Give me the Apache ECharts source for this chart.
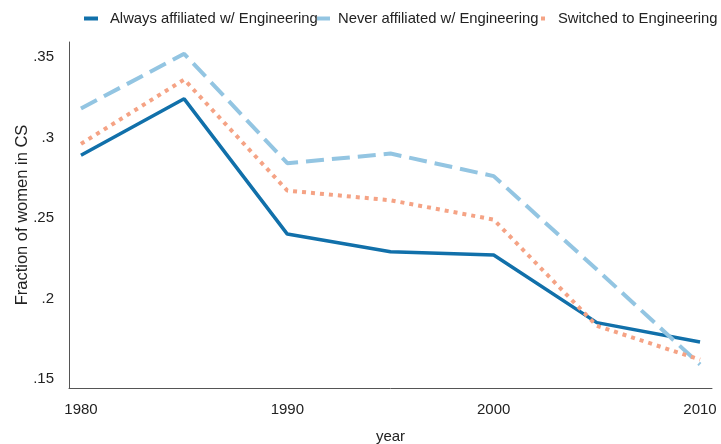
<!DOCTYPE html>
<html>
<head>
<meta charset="utf-8">
<script src="https://cdn.jsdelivr.net/npm/echarts@6/dist/echarts.min.js"></script>
<style>
html,body{margin:0;padding:0;background:#fff;}
#chart{width:721px;height:444px;}
</style>
</head>
<body>
<div id="chart"></div>
<script>
const years = [1980, 1985, 1990, 1995, 2000, 2005, 2010];
const alwaysEng = [0.289, 0.324, 0.240, 0.229, 0.227, 0.185, 0.173];
const neverEng = [0.318, 0.352, 0.284, 0.290, 0.276, 0.218, 0.159];
const switchedEng = [0.296, 0.336, 0.267, 0.261, 0.249, 0.183, 0.162];
const xTicks = [1980, 1990, 2000, 2010];
const yTicks = [0.15, 0.2, 0.25, 0.3, 0.35];
const names = ['Always affiliated w/ Engineering', 'Never affiliated w/ Engineering', 'Switched to Engineering'];

const font = 'Liberation Sans, Arial, Helvetica, sans-serif';
const cAlways = '#1170aa', cNever = '#93c5e2', cSwitch = '#f5a385';

const pairs = arr => years.map((y, i) => [y, arr[i]]);
const legendText = pad => ({fontFamily: font, fontSize: 14.8, color: '#222', padding: [0, 0, 0, pad]});

const chart = echarts.init(document.getElementById('chart'));
chart.setOption({
  animation: false,
  backgroundColor: '#fff',
  grid: {left: 69, right: 9, top: 42, bottom: 56, containLabel: false, outerBoundsMode: 'none'},
  legend: [
    {data: [names[0]], left: 84, top: 11, padding: 0, icon: 'rect', itemWidth: 14, itemHeight: 4,
     textStyle: legendText(7)},
    {data: [names[1]], left: 317, top: 11, padding: 0, icon: 'rect', itemWidth: 13, itemHeight: 4,
     textStyle: legendText(3)},
    {data: [names[2]], left: 541, top: 11, padding: 0, icon: 'rect', itemWidth: 4, itemHeight: 4,
     textStyle: legendText(8)}
  ],
  xAxis: {
    type: 'value', min: 1979.42, max: 2010.58,
    name: 'year', nameLocation: 'middle', nameGap: 41, nameMoveOverlap: false,
    nameTextStyle: {fontFamily: font, fontSize: 15, color: '#222'},
    axisLine: {show: true, lineStyle: {color: '#555', width: 1}},
    axisTick: {show: false},
    splitLine: {show: false},
    axisLabel: {customValues: xTicks, margin: 14, fontFamily: font, fontSize: 15, color: '#222',
      formatter: v => String(Math.round(v))}
  },
  yAxis: {
    type: 'value', min: 0.1444, max: 0.3593,
    name: 'Fraction of women in CS', nameLocation: 'middle', nameGap: 38, nameRotate: 90,
    nameMoveOverlap: false,
    nameTextStyle: {fontFamily: font, fontSize: 16.5, color: '#222'},
    axisLine: {show: true, lineStyle: {color: '#555', width: 1}},
    axisTick: {show: false},
    splitLine: {show: false},
    axisLabel: {customValues: yTicks, margin: 15, fontFamily: font, fontSize: 15, color: '#222',
      formatter: v => String(+v.toFixed(2)).replace(/^0/, '')}
  },
  series: [
    {name: names[0], type: 'line', data: pairs(alwaysEng), showSymbol: false, symbol: 'none',
     itemStyle: {color: cAlways}, lineStyle: {color: cAlways, width: 3.5}},
    {name: names[1], type: 'line', data: pairs(neverEng), showSymbol: false, symbol: 'none',
     itemStyle: {color: cNever}, lineStyle: {color: cNever, width: 4, type: [18, 8], cap: 'butt'}},
    {name: names[2], type: 'line', data: pairs(switchedEng), showSymbol: false, symbol: 'none',
     itemStyle: {color: cSwitch}, lineStyle: {color: cSwitch, width: 4, type: [4, 5], cap: 'butt'}}
  ]
});
</script>
</body>
</html>
